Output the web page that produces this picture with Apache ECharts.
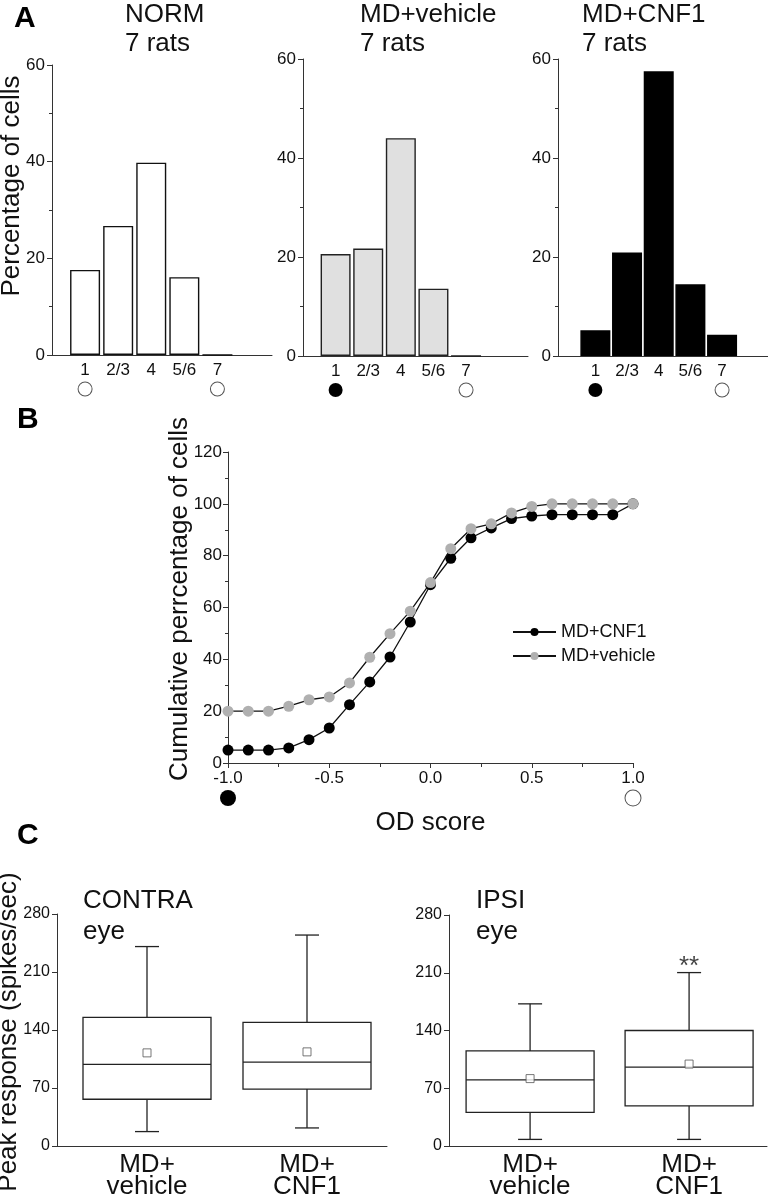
<!DOCTYPE html>
<html><head><meta charset="utf-8">
<script src="https://cdn.jsdelivr.net/npm/echarts@6/dist/echarts.min.js"></script>
<style>html,body{margin:0;padding:0;background:#fff}#c{width:768px;height:1200px}</style>
</head><body><div id="c"></div>
<script>
// ---------- DATA ----------
const odCategories = ['1', '2/3', '4', '5/6', '7'];
const normValues = [17.6, 26.7, 39.8, 16.1, 0];
const vehicleValues = [20.6, 21.7, 44.0, 13.6, 0];
const cnf1Values = [5.2, 20.9, 57.5, 14.5, 4.3];

const odScores = [-1.0, -0.9, -0.8, -0.7, -0.6, -0.5, -0.4, -0.3, -0.2, -0.1, 0.0,
                  0.1, 0.2, 0.3, 0.4, 0.5, 0.6, 0.7, 0.8, 0.9, 1.0];
const cumCNF1 = [5, 5, 5, 5.8, 9.0, 13.5, 22.5, 31.3, 40.9, 54.4, 68.8,
                 79.0, 86.9, 90.7, 94.3, 95.3, 95.8, 95.8, 95.8, 95.8, 100];
const cumVehicle = [20, 20, 20, 21.9, 24.4, 25.5, 30.9, 40.8, 49.9, 58.6, 69.6,
                    82.7, 90.4, 92.3, 96.5, 99.0, 100, 100, 100, 100, 100];

const boxGroups = ['MD+\nvehicle', 'MD+\nCNF1'];
// [min, Q1, median, Q3, max]
const contraBox = [[17.4, 56.4, 98.5, 155.3, 240.7], [21.8, 68.7, 101.3, 149.3, 254.6]];
const contraMean = [112.4, 113.6];
const ipsiBox = [[8.0, 40.7, 80.1, 115.2, 172.3], [8.0, 48.7, 95.7, 140.0, 210.2]];
const ipsiMean = [81.7, 99.3];
const ipsiSignificance = ['', '**'];

// ---------- STYLE / LAYOUT ----------
const FONT = '"Liberation Sans", Arial, sans-serif';
const INK = '#111';
const AX = '#333';

const grids = [], xAxes = [], yAxes = [], series = [];

const circleRich = {
  f: {width: 14, height: 14, borderRadius: 7, backgroundColor: '#000', lineHeight: 18},
  o: {width: 13, height: 13, borderRadius: 7, backgroundColor: '#fff', borderColor: '#555', borderWidth: 1, lineHeight: 18}
};

function histPanel(grid, xMin, xMax, yMax, values, fill, border, leftMark) {
  const idx = grids.length;
  grids.push(grid);
  xAxes.push({
    gridIndex: idx, type: 'value', min: xMin, max: xMax,
    axisLine: {onZero: false, lineStyle: {color: AX, width: 1}},
    axisTick: {show: false}, splitLine: {show: false},
    axisLabel: {
      customValues: [1, 2, 3, 4, 5],
      formatter: v => {
        const lab = odCategories[Math.round(v) - 1];
        if (Math.round(v) === 1) return lab + '\n{' + leftMark + '|}';
        if (Math.round(v) === 5) return lab + '\n{o|}';
        return lab;
      },
      rich: circleRich, fontSize: 17, lineHeight: 20, color: INK, fontFamily: FONT, margin: 5
    }
  });
  yAxes.push({
    gridIndex: idx, type: 'value', min: 0, max: yMax, interval: 20,
    axisLine: {show: true, onZero: false, lineStyle: {color: AX, width: 1}},
    axisTick: {show: true, length: 5, lineStyle: {color: AX}},
    minorTick: {show: true, splitNumber: 2, length: 3, lineStyle: {color: AX}},
    splitLine: {show: false},
    axisLabel: {fontSize: 17, color: INK, fontFamily: FONT, margin: 7}
  });
  series.push({
    type: 'bar', xAxisIndex: idx, yAxisIndex: idx, barWidth: 30,
    data: values.map((v, i) => [i + 1, v]),
    itemStyle: {color: fill, borderColor: border, borderWidth: 1.4},
    silent: true
  });
}

histPanel({left: 52, top: 65, width: 220, height: 290}, 0, 6.65, 60, normValues, '#fff', '#111', 'o');
histPanel({left: 303, top: 59, width: 225, height: 297}, 0, 6.9, 60, vehicleValues, '#e0e0e0', '#222', 'f');
histPanel({left: 558, top: 59, width: 214, height: 297}, -0.18, 6.45, 60, cnf1Values, '#000', '#000', 'f');

// ---- Panel B ----
const bIdx = grids.length;
grids.push({left: 228, top: 452, width: 405, height: 311});
xAxes.push({
  gridIndex: bIdx, type: 'value', min: -1, max: 1, interval: 0.5,
  name: 'OD score', nameLocation: 'middle', nameGap: 33,
  nameTextStyle: {fontSize: 26, color: INK, fontFamily: FONT},
  axisLine: {onZero: false, lineStyle: {color: AX}},
  axisTick: {show: true, length: 5, lineStyle: {color: AX}},
  minorTick: {show: true, splitNumber: 2, length: 4, lineStyle: {color: AX}},
  splitLine: {show: false},
  axisLabel: {
    formatter: v => {
      const s = v.toFixed(1);
      if (v === -1) return s + '\n{f|}';
      if (v === 1) return s + '\n{o|}';
      return s;
    },
    rich: {
      f: {width: 16, height: 16, borderRadius: 8, backgroundColor: '#000', lineHeight: 22},
      o: {width: 15, height: 15, borderRadius: 8, backgroundColor: '#fff', borderColor: '#555', borderWidth: 1, lineHeight: 22}
    },
    fontSize: 17, lineHeight: 18, color: INK, fontFamily: FONT, margin: 6
  }
});
yAxes.push({
  gridIndex: bIdx, type: 'value', min: 0, max: 120, interval: 20,
  axisLine: {show: true, onZero: false, lineStyle: {color: AX}},
  axisTick: {show: true, length: 5, lineStyle: {color: AX}},
  minorTick: {show: true, splitNumber: 2, length: 3, lineStyle: {color: AX}},
  splitLine: {show: false},
  axisLabel: {fontSize: 17, color: INK, fontFamily: FONT, margin: 6}
});
series.push({
  name: 'MD+CNF1', type: 'line', xAxisIndex: bIdx, yAxisIndex: bIdx,
  data: odScores.map((x, i) => [x, cumCNF1[i]]),
  symbol: 'circle', symbolSize: 11, showSymbol: true,
  lineStyle: {color: '#111', width: 1.3},
  itemStyle: {color: '#000', borderWidth: 0}, z: 3, silent: true
});
series.push({
  name: 'MD+vehicle', type: 'line', xAxisIndex: bIdx, yAxisIndex: bIdx,
  data: odScores.map((x, i) => [x, cumVehicle[i]]),
  symbol: 'circle', symbolSize: 11, showSymbol: true,
  lineStyle: {color: '#111', width: 1.3},
  itemStyle: {color: '#b0b0b0', borderWidth: 0}, z: 4, silent: true
});

// ---- Panel C ----
function boxRender(params, api) {
  const x = api.value(0);
  const pMin = api.coord([x, api.value(1)]);
  const pQ1 = api.coord([x, api.value(2)]);
  const pMed = api.coord([x, api.value(3)]);
  const pQ3 = api.coord([x, api.value(4)]);
  const pMax = api.coord([x, api.value(5)]);
  const bw = 128, cap = 24, cx = pMed[0];
  const ls = {stroke: '#222', lineWidth: 1.3};
  return {type: 'group', children: [
    {type: 'line', shape: {x1: cx, y1: pMax[1], x2: cx, y2: pQ3[1]}, style: ls},
    {type: 'line', shape: {x1: cx, y1: pQ1[1], x2: cx, y2: pMin[1]}, style: ls},
    {type: 'line', shape: {x1: cx - cap / 2, y1: pMax[1], x2: cx + cap / 2, y2: pMax[1]}, style: ls},
    {type: 'line', shape: {x1: cx - cap / 2, y1: pMin[1], x2: cx + cap / 2, y2: pMin[1]}, style: ls},
    {type: 'rect', shape: {x: cx - bw / 2, y: pQ3[1], width: bw, height: pQ1[1] - pQ3[1]},
     style: {stroke: '#222', lineWidth: 1.3, fill: '#fff'}},
    {type: 'line', shape: {x1: cx - bw / 2, y1: pMed[1], x2: cx + bw / 2, y2: pMed[1]}, style: ls}
  ]};
}

function boxPanel(grid, xMin, xMax, boxes, means, notes) {
  const idx = grids.length;
  grids.push(grid);
  xAxes.push({
    gridIndex: idx, type: 'value', min: xMin, max: xMax,
    axisLine: {onZero: false, lineStyle: {color: AX}},
    axisTick: {show: false}, splitLine: {show: false},
    axisLabel: {customValues: [0, 1], formatter: v => boxGroups[Math.round(v)],
      fontSize: 26, lineHeight: 22, color: INK, fontFamily: FONT, margin: 8}
  });
  yAxes.push({
    gridIndex: idx, type: 'value', min: 0, max: 280, interval: 70,
    axisLine: {show: true, onZero: false, lineStyle: {color: AX}},
    axisTick: {show: true, length: 5, lineStyle: {color: AX}},
    splitLine: {show: false},
    axisLabel: {fontSize: 16, color: INK, fontFamily: FONT, margin: 7}
  });
  series.push({
    type: 'custom', xAxisIndex: idx, yAxisIndex: idx,
    data: boxes.map((b, i) => [i].concat(b)),
    encode: {x: 0, y: [1, 2, 3, 4, 5]},
    renderItem: boxRender, silent: true
  });
  series.push({
    type: 'scatter', xAxisIndex: idx, yAxisIndex: idx,
    data: means.map((m, i) => [i, m]),
    symbol: 'rect', symbolSize: 8,
    itemStyle: {color: '#fff', borderColor: '#555', borderWidth: 1}, z: 5, silent: true
  });
  if (notes) {
    series.push({
      type: 'scatter', xAxisIndex: idx, yAxisIndex: idx,
      data: boxes.map((b, i) => ({value: [i, b[4]], label: {formatter: notes[i]}})),
      symbolSize: 0,
      label: {show: true, position: 'top', distance: 0, offset: [0, 7],
              fontSize: 26, color: INK, fontFamily: FONT},
      silent: true
    });
  }
}

boxPanel({left: 57, top: 914, width: 330, height: 235}, -0.5625, 1.5, contraBox, contraMean, null);
boxPanel({left: 449, top: 915, width: 318, height: 234}, -0.51, 1.49, ipsiBox, ipsiMean, ipsiSignificance);

// ---------- TEXT ----------
const titleStyle = {fontSize: 26, fontWeight: 'normal', color: INK, fontFamily: FONT, lineHeight: 29};
const letterStyle = {fontSize: 30, fontWeight: 'bold', color: '#000', fontFamily: FONT};
const titles = [
  {text: 'A', left: 14, top: 4, padding: 0, textStyle: letterStyle},
  {text: 'B', left: 17, top: 405, padding: 0, textStyle: letterStyle},
  {text: 'C', left: 17, top: 821, padding: 0, textStyle: letterStyle},
  {text: 'NORM\n7 rats', left: 125, top: 0, padding: 0, textStyle: titleStyle},
  {text: 'MD+vehicle\n7 rats', left: 360, top: 0, padding: 0, textStyle: titleStyle},
  {text: 'MD+CNF1\n7 rats', left: 582, top: 0, padding: 0, textStyle: titleStyle},
  {text: 'CONTRA\neye', left: 83, top: 885, padding: 0, textStyle: Object.assign({}, titleStyle, {lineHeight: 31})},
  {text: 'IPSI\neye', left: 476, top: 885, padding: 0, textStyle: Object.assign({}, titleStyle, {lineHeight: 31})}
];

function vText(text, x, y) {
  return {type: 'text', x: x, y: y, rotation: Math.PI / 2, silent: true,
    style: {text: text, fontSize: 26, fontFamily: FONT, fill: INK, align: 'center', verticalAlign: 'middle'}};
}

const chart = echarts.init(document.getElementById('c'), null, {renderer: 'canvas'});
chart.setOption({
  animation: false,
  backgroundColor: '#fff',
  textStyle: {fontFamily: FONT},
  title: titles,
  legend: {
    data: ['MD+CNF1', 'MD+vehicle'], orient: 'vertical', left: 512, top: 623,
    itemWidth: 43, itemHeight: 10, itemGap: 6, padding: 0,
    textStyle: {fontSize: 18, color: INK, fontFamily: FONT}, selectedMode: false
  },
  grid: grids,
  xAxis: xAxes,
  yAxis: yAxes,
  series: series,
  graphic: [
    vText('Percentage of cells', 12, 186),
    vText('Cumulative perrcentage of cells', 180, 599),
    vText('Peak response (spikes/sec)', 9, 1032)
  ]
});
</script></body></html>
